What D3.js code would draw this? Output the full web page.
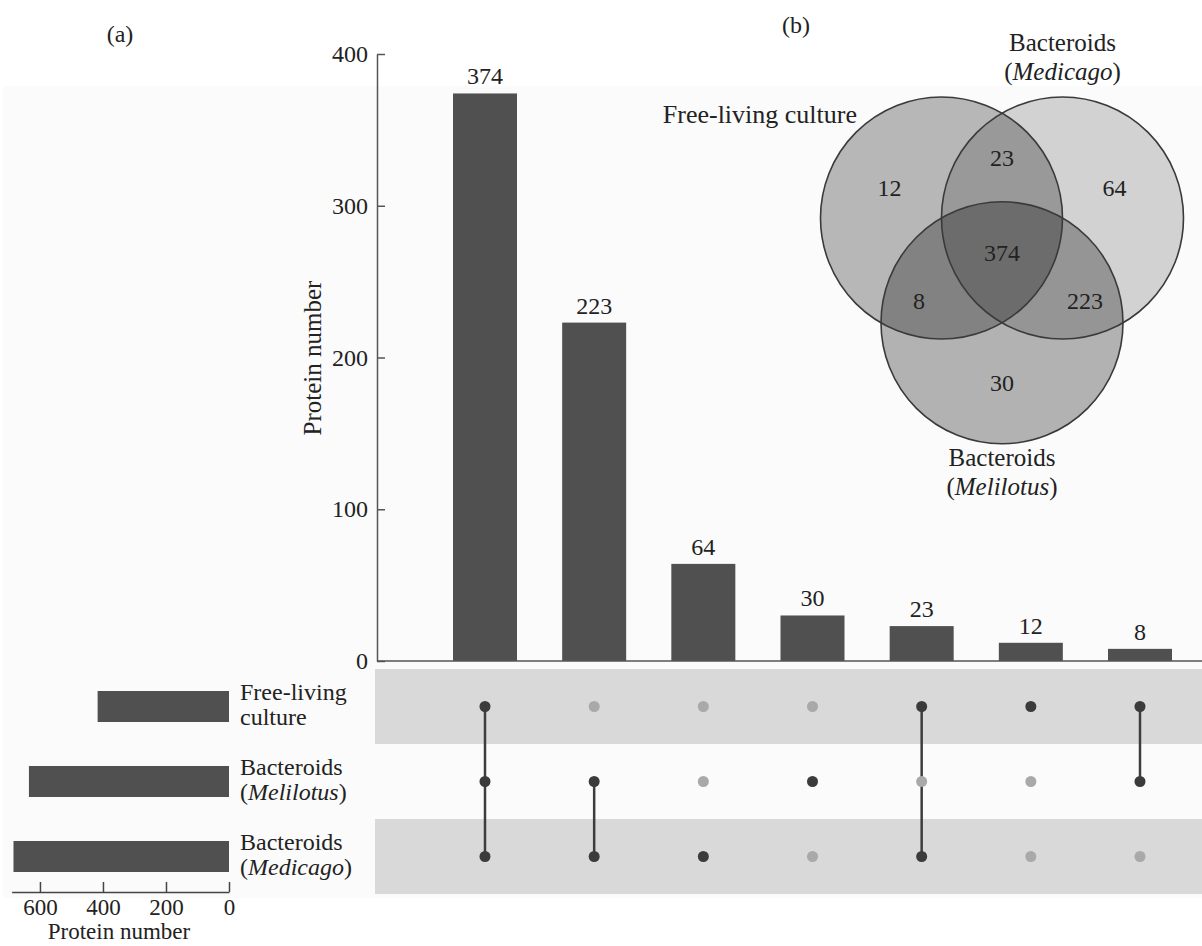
<!DOCTYPE html>
<html>
<head>
<meta charset="utf-8">
<script src="https://cdn.jsdelivr.net/npm/d3@7"></script>
<style>
  body { margin: 0; background: #fff; }
  svg text { font-family: "Liberation Serif", "Times New Roman", serif; fill: #222; }
</style>
</head>
<body>
<div id="chart"></div>
<script>
// sets (matrix rows), their totals, intersections (matrix columns)
const setNames = ["Free-living culture", "Bacteroids (Melilotus)", "Bacteroids (Medicago)"];
const setLines = [["Free-living", "culture"], ["Bacteroids", "Melilotus"], ["Bacteroids", "Medicago"]];
const setTotals = [417, 635, 684];
const interCounts = [374, 223, 64, 30, 23, 12, 8];
const interMembers = [[0, 1, 2], [1, 2], [2], [1], [0, 2], [0], [0, 1]];
const yTicks = [0, 100, 200, 300, 400];
const leftTicks = [0, 200, 400, 600];

const W = 1202, H = 946;
const svg = d3.select("#chart").append("svg")
  .attr("width", W)
  .attr("height", H);

// faint panel background
svg.append("rect")
  .attr("x", 3).attr("y", 86)
  .attr("width", W - 3).attr("height", 812)
  .attr("fill", "#fbfbfb");

const xScale = d3.scalePoint()
  .domain(d3.range(interCounts.length))
  .range([485, 1140]);
const barW = 64;

const yScale = d3.scaleLinear().domain([0, 400]).range([661, 54]);

const rowScale = d3.scaleBand().domain(d3.range(setNames.length)).range([669, 894]);
const rowY = i => rowScale(i) + rowScale.bandwidth() / 2;

// matrix bands
svg.selectAll(".band")
  .data(d3.range(setNames.length).filter(i => i % 2 === 0))
  .enter()
  .append("rect")
  .attr("class", "band")
  .attr("x", 375)
  .attr("y", i => rowScale(i))
  .attr("width", W - 375)
  .attr("height", rowScale.bandwidth())
  .attr("fill", "#d9d9d9");

// intersection bars
svg.selectAll(".bar")
  .data(interCounts)
  .enter()
  .append("rect")
  .attr("class", "bar")
  .attr("x", (d, i) => xScale(i) - barW / 2)
  .attr("y", d => yScale(d))
  .attr("width", barW)
  .attr("height", d => yScale(0) - yScale(d))
  .attr("fill", "#505051");

svg.selectAll(".barlabel")
  .data(interCounts)
  .enter()
  .append("text")
  .attr("class", "barlabel")
  .attr("x", (d, i) => xScale(i))
  .attr("y", d => yScale(d) - 9)
  .attr("text-anchor", "middle")
  .style("font-size", "24px")
  .text(d => d);

// y axis
const yAxis = svg.append("g")
  .attr("transform", "translate(377,0)")
  .call(d3.axisLeft(yScale).tickValues(yTicks).tickSizeInner(-8).tickSizeOuter(0).tickPadding(9));
yAxis.selectAll("text").style("font-size", "24px").attr("fill", "#222");
yAxis.selectAll("path, line").attr("stroke", "#555").attr("stroke-width", 1.5);

// x baseline
svg.append("line")
  .attr("x1", 377).attr("x2", W)
  .attr("y1", yScale(0)).attr("y2", yScale(0))
  .attr("stroke", "#555").attr("stroke-width", 1.5);

svg.append("text")
  .attr("transform", `translate(321,358)rotate(-90)`)
  .attr("text-anchor", "middle")
  .style("font-size", "25px")
  .text("Protein number");

// matrix dots and connectors
interMembers.forEach((m, i) => {
  svg.append("line")
    .attr("x1", xScale(i)).attr("x2", xScale(i))
    .attr("y1", rowY(d3.min(m))).attr("y2", rowY(d3.max(m)))
    .attr("stroke", "#3d3d3d").attr("stroke-width", 2.5);
  svg.selectAll(null)
    .data(d3.range(setNames.length))
    .enter()
    .append("circle")
    .attr("cx", xScale(i))
    .attr("cy", r => rowY(r))
    .attr("r", 5.5)
    .attr("fill", r => m.includes(r) ? "#3b3b3b" : "#a9a9a9");
});

// left set-size bars
const leftScale = d3.scaleLinear().domain([0, 690]).range([229, 11.6]);
const leftBarH = 31;
svg.selectAll(".setbar")
  .data(setTotals)
  .enter()
  .append("rect")
  .attr("class", "setbar")
  .attr("x", d => leftScale(d))
  .attr("y", (d, i) => rowY(i) - leftBarH / 2)
  .attr("width", d => leftScale(0) - leftScale(d))
  .attr("height", leftBarH)
  .attr("fill", "#505051");

const leftAxis = svg.append("g")
  .attr("transform", "translate(0,892)")
  .call(d3.axisBottom(leftScale).tickValues(leftTicks).tickSizeInner(-10).tickSizeOuter(0).tickPadding(7));
leftAxis.selectAll("text").style("font-size", "23px").attr("fill", "#222");
leftAxis.selectAll("path, line").attr("stroke", "#444").attr("stroke-width", 1.5);

svg.append("text")
  .attr("x", 119).attr("y", 939)
  .attr("text-anchor", "middle")
  .style("font-size", "23px")
  .text("Protein number");

// set labels
setLines.forEach((lines, i) => {
  const t = svg.append("text")
    .attr("x", 240)
    .style("font-size", "24px");
  const y0 = rowY(i) - 7;
  const gap = 25;
  t.append("tspan").attr("x", 240).attr("y", y0).text(lines[0]);
  if (i === 0) {
    t.append("tspan").attr("x", 240).attr("y", y0 + gap).text(lines[1]);
  } else {
    t.append("tspan").attr("x", 240).attr("y", y0 + gap).text("(");
    t.append("tspan").style("font-style", "italic").text(lines[1]);
    t.append("tspan").text(")");
  }
});

// panel letters
svg.append("text").attr("x", 120).attr("y", 42).attr("text-anchor", "middle")
  .style("font-size", "24px").text("(a)");
svg.append("text").attr("x", 796).attr("y", 33).attr("text-anchor", "middle")
  .style("font-size", "24px").text("(b)");

// Venn diagram: A = Free-living, B = Medicago, C = Melilotus
const vr = 121, vd = 121, vcx = 1002, vcy = 218;
const vennCircles = [
  {x: vcx - vd / 2, y: vcy, a: 0.27},                     // Free-living
  {x: vcx + vd / 2, y: vcy, a: 0.16},                     // Medicago
  {x: vcx, y: vcy + vd * Math.sqrt(3) / 2, a: 0.29}       // Melilotus
];
// map set index (matrix order) -> venn circle
const setToCircle = [0, 2, 1];

const venn = svg.append("g");
venn.selectAll(".vfill")
  .data(vennCircles)
  .enter()
  .append("circle")
  .attr("cx", d => d.x).attr("cy", d => d.y).attr("r", vr)
  .attr("fill", "#000").attr("fill-opacity", d => d.a);
venn.selectAll(".vstroke")
  .data(vennCircles)
  .enter()
  .append("circle")
  .attr("cx", d => d.x).attr("cy", d => d.y).attr("r", vr)
  .attr("fill", "none").attr("stroke", "#3a3a3a").attr("stroke-width", 1.6);

const gx = d3.mean(vennCircles, d => d.x), gy = d3.mean(vennCircles, d => d.y);
interMembers.forEach((m, i) => {
  const cs = m.map(s => setToCircle[s]);
  let px = gx, py = gy;
  if (cs.length === 1) {
    const c = vennCircles[cs[0]];
    px = gx + (c.x - gx) * 1.86;
    py = gy + (c.y - gy) * 1.86;
  } else if (cs.length === 2) {
    const other = vennCircles[[0, 1, 2].find(k => !cs.includes(k))];
    px = gx - (other.x - gx) * 1.37;
    py = gy - (other.y - gy) * 1.37;
  }
  venn.append("text")
    .attr("x", px).attr("y", py)
    .attr("dy", "0.35em")
    .attr("text-anchor", "middle")
    .style("font-size", "24px")
    .text(interCounts[i]);
});

// Venn set labels
venn.append("text")
  .attr("x", 857).attr("y", 123)
  .attr("text-anchor", "end")
  .style("font-size", "26px")
  .text(setNames[0]);

const medLabel = venn.append("text")
  .attr("text-anchor", "middle")
  .style("font-size", "25px");
medLabel.append("tspan").attr("x", vennCircles[1].x).attr("y", 51).text("Bacteroids");
medLabel.append("tspan").attr("x", vennCircles[1].x).attr("y", 80)
  .html('(<tspan font-style="italic">Medicago</tspan>)');

const melLabel = venn.append("text")
  .attr("text-anchor", "middle")
  .style("font-size", "25px");
melLabel.append("tspan").attr("x", vennCircles[2].x).attr("y", 466).text("Bacteroids");
melLabel.append("tspan").attr("x", vennCircles[2].x).attr("y", 495)
  .html('(<tspan font-style="italic">Melilotus</tspan>)');
</script>
</body>
</html>
